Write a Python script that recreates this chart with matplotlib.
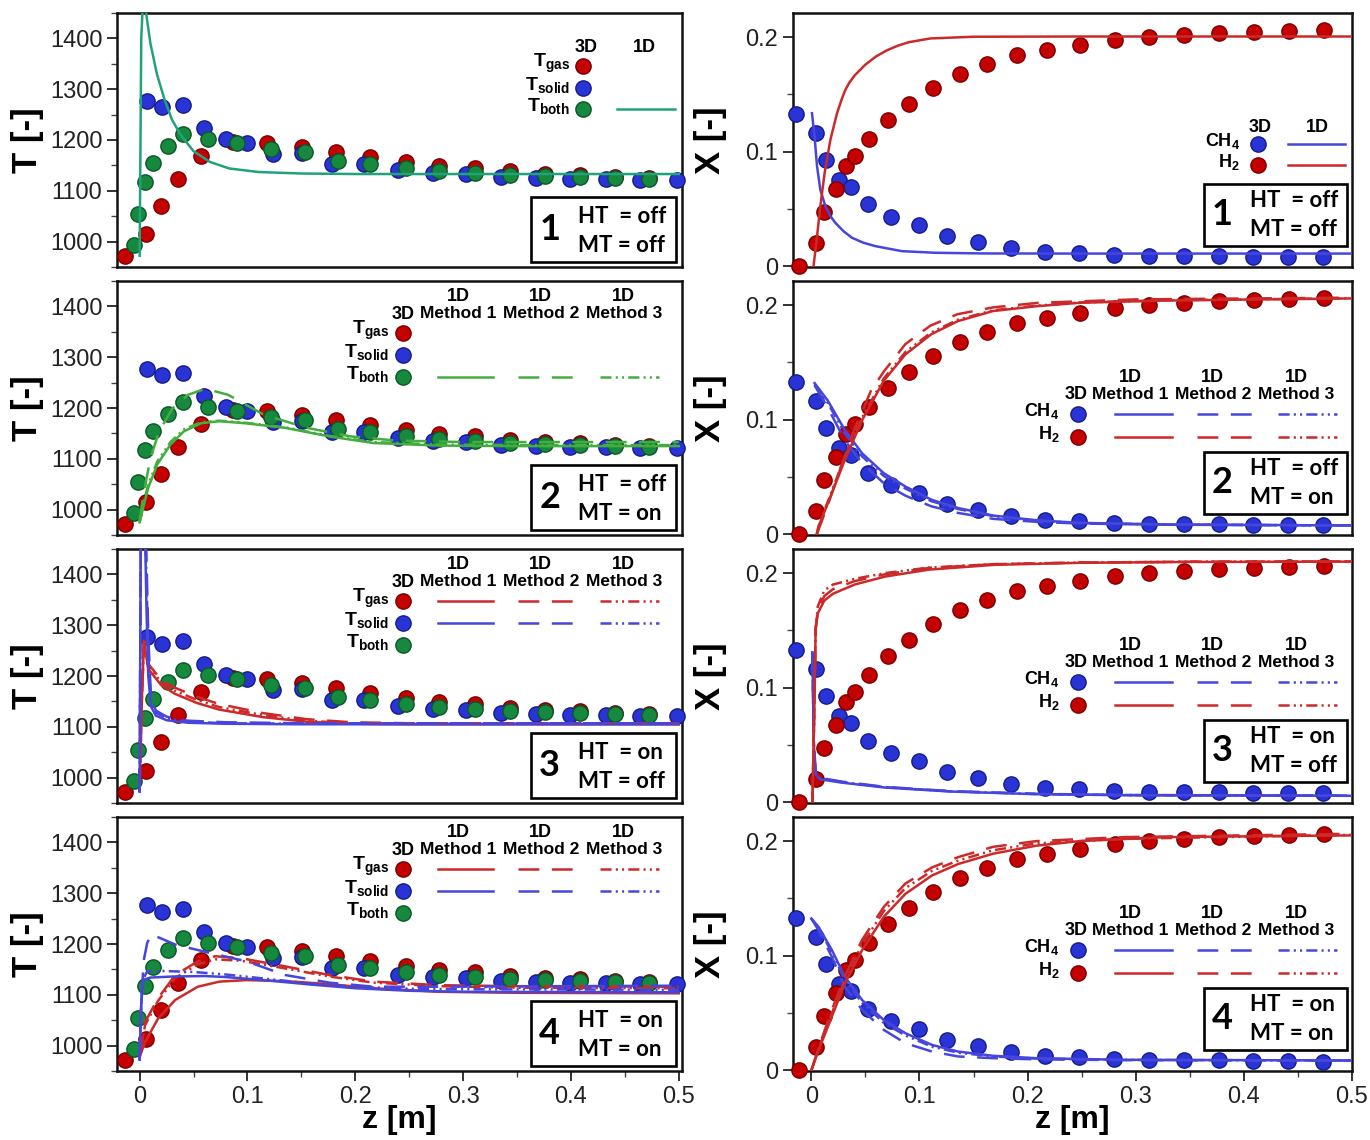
import numpy as np
import matplotlib.pyplot as plt
from matplotlib.patches import Rectangle
from matplotlib.ticker import MultipleLocator, FuncFormatter

plt.rcParams['font.family'] = ['Liberation Sans', 'DejaVu Sans']
plt.rcParams['mathtext.fontset'] = 'custom'
plt.rcParams['mathtext.rm'] = 'Liberation Sans'
plt.rcParams['mathtext.bf'] = 'Liberation Sans:bold'
plt.rcParams['lines.scale_dashes'] = False

# ---------------- 3D reference data (same in every row) ----------------
z_gas = [-0.0139, 0.0056, 0.0195, 0.0356, 0.0572, 0.0866, 0.1184, 0.1506, 0.1824,
         0.2139, 0.2466, 0.278, 0.3108, 0.3436, 0.3755, 0.4082, 0.4409, 0.4724]
T_gas = [972, 1014, 1071, 1123, 1169, 1196, 1194, 1186, 1176,
         1167, 1157, 1148, 1144, 1138, 1134, 1131, 1128, 1125]

z_solid = [0.0071, 0.021, 0.0402, 0.0594, 0.0798, 0.0996, 0.1237, 0.151, 0.1787, 0.2078,
           0.2393, 0.272, 0.3027, 0.3354, 0.3673, 0.3996, 0.4327, 0.4642, 0.498]
T_solid = [1276, 1264, 1268, 1223, 1202, 1195, 1173, 1174, 1153, 1152,
           1140, 1136, 1133, 1128, 1125, 1123, 1123, 1121, 1121]

z_both = [-0.0056, -0.0015, 0.0046, 0.0124, 0.0263, 0.0402, 0.0634, 0.0903, 0.1215, 0.153,
          0.184, 0.2139, 0.2466, 0.278, 0.3108, 0.3436, 0.3755, 0.4082, 0.4409, 0.4724]
T_both = [994, 1054, 1117, 1155, 1189, 1212, 1202, 1194, 1182, 1177,
          1159, 1153, 1144, 1139, 1136, 1132, 1130, 1128, 1126, 1123]

z_ch4 = [-0.0141, 0.0043, 0.0139, 0.0253, 0.037, 0.0524, 0.0739, 0.0992, 0.1257, 0.154,
         0.1845, 0.2159, 0.248, 0.2802, 0.3124, 0.3446, 0.3767, 0.4089, 0.4411, 0.4732]
X_ch4 = [0.133, 0.1163, 0.093, 0.0757, 0.0693, 0.054, 0.0432, 0.0362, 0.0264, 0.0212,
         0.0157, 0.013, 0.0115, 0.0101, 0.0095, 0.0092, 0.0087, 0.0084, 0.0081, 0.0078]

z_h2 = [-0.0117, 0.0043, 0.012, 0.0228, 0.0321, 0.04, 0.0536, 0.0709, 0.0906, 0.1125, 0.1375,
        0.1624, 0.1906, 0.218, 0.2489, 0.2811, 0.3124, 0.3446, 0.3767, 0.4097, 0.4419, 0.474]
X_h2 = [0.0, 0.0206, 0.0476, 0.0675, 0.0872, 0.0965, 0.111, 0.1278, 0.1414, 0.1553, 0.168,
        0.1766, 0.1847, 0.189, 0.1934, 0.1971, 0.1997, 0.202, 0.2035, 0.2043, 0.2055, 0.2058]

# ---------------- 1D results ----------------
# case 1 (HT off, MT off)
t1_z = [0.0, 0.0008, 0.0015, 0.003, 0.006, 0.010, 0.016, 0.023, 0.030, 0.038, 0.050,
        0.065, 0.083, 0.110, 0.150, 0.200, 0.300, 0.500]
t1_both = [972, 1200, 1400, 1470, 1450, 1390, 1330, 1280, 1240, 1210, 1178,
           1157, 1144, 1137, 1134, 1133, 1133, 1133]

x1_z_ch4 = [0.0006, 0.003, 0.0053, 0.0083, 0.013, 0.0175, 0.0222, 0.03, 0.0376, 0.048,
            0.0591, 0.0838, 0.1146, 0.16, 0.25, 0.5]
x1_ch4 = [0.1336, 0.113, 0.0872, 0.067, 0.0524, 0.0441, 0.038, 0.0305, 0.025, 0.0207,
          0.0177, 0.0133, 0.0119, 0.0113, 0.0112, 0.0112]
x1_z_h2 = [0.002, 0.0053, 0.0083, 0.0123, 0.0176, 0.0238, 0.028, 0.0314, 0.035, 0.04, 0.05,
           0.06, 0.07, 0.08, 0.09, 0.11, 0.15, 0.25, 0.5]
x1_h2 = [0.0, 0.0264, 0.0524, 0.0815, 0.1104, 0.1337, 0.1455, 0.1539, 0.160, 0.1665, 0.176,
         0.1832, 0.1885, 0.1925, 0.1955, 0.1988, 0.2003, 0.2005, 0.2005]

# case 2 (HT off, MT on)
t2_z_m1 = [0.0, 0.004, 0.008, 0.0164, 0.0286, 0.041, 0.057, 0.0736, 0.098, 0.135, 0.176,
           0.217, 0.278, 0.35, 0.5]
t2_m1 = [975, 1010, 1043, 1089, 1128, 1154, 1170, 1174, 1170, 1161, 1144, 1131, 1126, 1125, 1125]
t2_m3 = [975, 1016, 1050, 1095, 1133, 1158, 1172, 1175, 1171, 1162, 1145, 1133, 1128, 1127, 1127]
t2_z_m2 = [0.0, 0.004, 0.0102, 0.018, 0.0307, 0.045, 0.061, 0.082, 0.115, 0.155, 0.196,
           0.237, 0.3, 0.5]
t2_m2 = [978, 1036, 1102, 1154, 1200, 1226, 1238, 1226, 1187, 1161, 1144, 1136, 1133, 1133]

x2_z_h2_m1 = [0.005, 0.0068, 0.019, 0.031, 0.047, 0.067, 0.087, 0.111, 0.1355, 0.168,
              0.208, 0.248, 0.328, 0.5]
x2_h2_m1 = [0.0, 0.0072, 0.036, 0.065, 0.0996, 0.134, 0.157, 0.1746, 0.186, 0.1948,
            0.199, 0.202, 0.204, 0.2058]
x2_h2_m3 = [0.0, 0.0075, 0.038, 0.068, 0.102, 0.136, 0.159, 0.1762, 0.1872, 0.1955,
            0.1995, 0.2023, 0.2042, 0.206]
x2_z_h2_m2 = [0.005, 0.015, 0.027, 0.04, 0.055, 0.067, 0.087, 0.11, 0.135, 0.168, 0.21, 0.3, 0.5]
x2_h2_m2 = [0.0, 0.025, 0.058, 0.092, 0.125, 0.142, 0.166, 0.182, 0.192, 0.198, 0.202, 0.205, 0.2065]
x2_z_ch4 = [0.003, 0.015, 0.031, 0.047, 0.067, 0.087, 0.111, 0.1355, 0.168, 0.208, 0.248, 0.328, 0.5]
x2_ch4_m1 = [0.132, 0.117, 0.091, 0.0707, 0.0534, 0.0418, 0.0303, 0.0231, 0.0165, 0.0124, 0.0101, 0.0087, 0.0078]
x2_ch4_m2 = [0.130, 0.111, 0.082, 0.062, 0.0447, 0.0338, 0.0245, 0.0188, 0.0136, 0.011, 0.0095, 0.0085, 0.0078]
x2_ch4_m3 = [0.131, 0.115, 0.088, 0.068, 0.051, 0.040, 0.029, 0.0222, 0.016, 0.0121, 0.0099, 0.0086, 0.0078]

# case 3 (HT on, MT off)
t3_z_gas = [0.0, 0.002, 0.004, 0.008, 0.02, 0.0327, 0.053, 0.0736, 0.1145, 0.155, 0.196, 0.25, 0.5]
t3_gas_m1 = [975, 1150, 1268, 1214, 1182, 1165, 1147, 1134, 1119, 1110, 1106, 1105, 1105]
t3_gas_m2 = [975, 1150, 1270, 1224, 1192, 1177, 1159, 1145, 1127, 1115, 1109, 1107, 1107]
t3_gas_m3 = [975, 1150, 1268, 1220, 1188, 1171, 1153, 1139, 1123, 1112, 1107, 1106, 1106]
t3_z_solid = [0.0, 0.001, 0.003, 0.005, 0.0065, 0.008, 0.0105, 0.015, 0.025, 0.045, 0.08, 0.15, 0.5]
t3_solid_m1 = [972, 1460, 1560, 1480, 1320, 1200, 1140, 1122, 1113, 1108, 1106, 1105, 1105]
t3_solid_m2 = [972, 1440, 1580, 1540, 1420, 1280, 1160, 1132, 1120, 1112, 1109, 1107, 1107]
t3_solid_m3 = [972, 1450, 1570, 1510, 1380, 1240, 1150, 1128, 1117, 1110, 1107, 1106, 1106]

x3_z_h2 = [0.001, 0.0028, 0.004, 0.006, 0.012, 0.02, 0.04, 0.0683, 0.1085, 0.169, 0.249, 0.35, 0.5]
x3_h2_m1 = [0.0, 0.082, 0.1515, 0.165, 0.176, 0.182, 0.19, 0.197, 0.203, 0.2072, 0.209, 0.2097, 0.21]
x3_h2_m2 = [0.0, 0.082, 0.1515, 0.168, 0.180, 0.186, 0.193, 0.199, 0.2045, 0.2078, 0.2092, 0.2099, 0.2101]
x3_h2_m3 = [0.0, 0.082, 0.1515, 0.171, 0.185, 0.190, 0.195, 0.200, 0.2048, 0.2078, 0.2092, 0.21, 0.2102]
x3_z_ch4 = [0.001, 0.0022, 0.004, 0.008, 0.028, 0.068, 0.1287, 0.209, 0.29, 0.5]
x3_ch4_m1 = [0.131, 0.0534, 0.0245, 0.0202, 0.0173, 0.013, 0.0095, 0.0072, 0.0063, 0.0058]
x3_ch4_m2 = [0.131, 0.056, 0.0262, 0.0215, 0.0182, 0.0136, 0.0099, 0.0075, 0.0065, 0.0059]
x3_ch4_m3 = [0.131, 0.055, 0.0255, 0.021, 0.0178, 0.0133, 0.0097, 0.0073, 0.0064, 0.0058]

# case 4 (HT on, MT on)
t4_z_gas_m1 = [0.0, 0.005, 0.017, 0.033, 0.054, 0.074, 0.099, 0.135, 0.176, 0.217, 0.278, 0.35, 0.5]
t4_gas_m1 = [978, 1007, 1053, 1090, 1116, 1126, 1129, 1127, 1121, 1113, 1106, 1104, 1103]
t4_z_gas_m2 = [0.0, 0.005, 0.017, 0.033, 0.054, 0.07, 0.0945, 0.135, 0.176, 0.217, 0.278, 0.35, 0.5]
t4_gas_m2 = [978, 1046, 1093, 1139, 1166, 1176, 1172, 1156, 1139, 1126, 1119, 1117, 1116]
t4_gas_m3 = [978, 1040, 1088, 1133, 1160, 1170, 1167, 1152, 1136, 1124, 1117, 1114, 1113]
t4_z_solid_m1 = [0.0, 0.001, 0.002, 0.004, 0.01, 0.03, 0.06, 0.08, 0.12, 0.16, 0.2, 0.25, 0.3, 0.5]
t4_solid_m1 = [972, 1050, 1110, 1130, 1134, 1136, 1137, 1135, 1128, 1120, 1113, 1108, 1106, 1105]
t4_z_solid_m2 = [0.0, 0.0016, 0.004, 0.007, 0.011, 0.033, 0.066, 0.099, 0.135, 0.176, 0.217, 0.278, 0.5]
t4_solid_m2 = [972, 1093, 1170, 1202, 1219, 1199, 1182, 1166, 1139, 1124, 1116, 1116, 1118]
t4_z_solid_m3 = [0.0, 0.001, 0.003, 0.007, 0.02, 0.05, 0.08, 0.12, 0.16, 0.2, 0.25, 0.3, 0.5]
t4_solid_m3 = [972, 1060, 1130, 1146, 1147, 1145, 1140, 1131, 1122, 1116, 1112, 1111, 1110]

x4_z_h2_m1 = [0.0, 0.0068, 0.019, 0.031, 0.047, 0.067, 0.087, 0.1115, 0.1357, 0.168, 0.208, 0.248, 0.329, 0.5]
x4_h2_m1 = [0.0, 0.018, 0.047, 0.076, 0.105, 0.134, 0.154, 0.170, 0.180, 0.189, 0.196, 0.2, 0.2035, 0.205]
x4_z = [0.0, 0.0068, 0.019, 0.031, 0.047, 0.067, 0.087, 0.1115, 0.1357, 0.168, 0.208, 0.289, 0.5]
x4_h2_m2 = [0.0, 0.02, 0.053, 0.082, 0.114, 0.1426, 0.163, 0.177, 0.186, 0.195, 0.2, 0.2035, 0.2064]
x4_h2_m3 = [0.0, 0.019, 0.05, 0.079, 0.11, 0.139, 0.159, 0.174, 0.183, 0.192, 0.198, 0.202, 0.2055]
x4_ch4_m1 = [0.1325, 0.125, 0.105, 0.0817, 0.0614, 0.044, 0.0325, 0.0223, 0.0165, 0.0128, 0.0107, 0.0093, 0.0087]
x4_ch4_m2 = [0.1325, 0.122, 0.099, 0.073, 0.0528, 0.0354, 0.0238, 0.0165, 0.0122, 0.0107, 0.0097, 0.009, 0.0086]
x4_ch4_m3 = [0.1325, 0.124, 0.103, 0.079, 0.059, 0.0415, 0.0305, 0.0208, 0.0155, 0.0122, 0.0104, 0.0092, 0.0087]

case_ids = ['1', '2', '3', '4']
ht_flags = ['off', 'off', 'on', 'on']
mt_flags = ['off', 'on', 'off', 'on']

# ---------------- styles ----------------
RED, BLUE, GREEN = '#c40000', '#2a34d6', '#17893f'
RED_EDGE, BLUE_EDGE, GREEN_EDGE = '#7a0000', '#141c86', '#0b5626'
RED_L, BLUE_L, GREEN_L, TEAL_L = '#cc2a2a', '#4646dc', '#43ad3e', '#21a27a'
LS = ['-', (0, (15, 9)), (0, (8, 3, 1.5, 3, 1.5, 3))]
LW = 1.8
MS = 11

fig = plt.figure(figsize=(13.7, 11.4), dpi=100)
bottoms = [0.7658, 0.5307, 0.2956, 0.0605]
H = 0.2228
axL = [fig.add_axes([0.0854, b, 0.4124, H]) for b in bottoms]
axR = [fig.add_axes([0.5788, b, 0.408, H]) for b in bottoms]


def fmt(v, pos):
    return '%g' % round(v, 3)


def style(ax, left_kind, last):
    for s in ax.spines.values():
        s.set_linewidth(1.8)
        s.set_color('#111111')
    ax.tick_params(which='major', direction='out', length=7, width=1.3, labelsize=17,
                   top=False, right=False, colors='#222222')
    ax.tick_params(which='minor', direction='out', length=4, width=1.0,
                   top=False, right=False, colors='#444444')
    ax.xaxis.set_major_locator(MultipleLocator(0.1))
    ax.xaxis.set_minor_locator(MultipleLocator(0.05))
    ax.xaxis.set_major_formatter(FuncFormatter(fmt))
    ax.yaxis.set_major_formatter(FuncFormatter(fmt))
    if left_kind:
        ax.set_xlim(-0.021, 0.503)
        ax.set_ylim(950, 1450)
        ax.yaxis.set_major_locator(MultipleLocator(100))
        ax.yaxis.set_minor_locator(MultipleLocator(50))
        ax.set_ylabel('T [-]', fontsize=25, fontweight='bold')
        ax.yaxis.set_label_coords(-0.13, 0.5)
    else:
        ax.set_xlim(-0.017, 0.5)
        ax.set_ylim(-0.0005, 0.221)
        ax.yaxis.set_major_locator(MultipleLocator(0.1))
        ax.yaxis.set_minor_locator(MultipleLocator(0.05))
        ax.set_ylabel('X [-]', fontsize=25, fontweight='bold')
        ax.yaxis.set_label_coords(-0.118, 0.5)
    if last:
        ax.set_xlabel('z [m]', fontsize=23, fontweight='bold')
        ax.xaxis.set_label_coords(0.5, -0.135)
    else:
        ax.tick_params(axis='x', which='both', length=0, labelbottom=False)


def dots(ax, z, v, fc, ec):
    ax.plot(z, v, 'o', ms=MS, mfc=fc, mec=ec, mew=1.0, ls='none', zorder=3, clip_on=False)


def case_box(ax, k, x0, y0, y1):
    ax.add_patch(Rectangle((x0, y0), 0.257, y1 - y0, transform=ax.transAxes,
                           fc='white', ec='black', lw=1.9, zorder=6))
    ax.text(x0 + 0.033, (y0 + y1) / 2, case_ids[k], transform=ax.transAxes, ha='center',
            va='center', fontsize=26, fontweight='bold', family='Lato', zorder=7)
    ax.text(x0 + 0.083, y0 + 0.18, 'HT  = ' + ht_flags[k], transform=ax.transAxes,
            ha='left', va='center', fontsize=16, fontweight='bold', family='Lato', zorder=7)
    ax.text(x0 + 0.083, y0 + 0.065, 'MT = ' + mt_flags[k], transform=ax.transAxes,
            ha='left', va='center', fontsize=16, fontweight='bold', family='Lato', zorder=7)


def seg(ax, x0, x1, y, color, ls):
    ax.plot([x0, x1], [y, y], transform=ax.transAxes, color=color, lw=LW, ls=ls,
            zorder=7, clip_on=False)


def leg_dot(ax, x, y, fc, ec):
    ax.plot([x], [y], 'o', transform=ax.transAxes, ms=MS, mfc=fc, mec=ec, mew=1.0,
            zorder=7, clip_on=False)


def legend_T(ax, methods, line_rows):
    if methods:
        xd, xlab, ys = 0.506, 0.482, [0.795, 0.709, 0.622]
        ax.text(xd, 0.87, '3D', transform=ax.transAxes, ha='center', va='center',
                fontsize=13, fontweight='bold')
        for i, xc in enumerate([0.604, 0.750, 0.897]):
            ax.text(xc, 0.94, '1D', transform=ax.transAxes, ha='center', va='center',
                    fontsize=13, fontweight='bold')
            ax.text(xc, 0.872, 'Method %d' % (i + 1), transform=ax.transAxes, ha='center',
                    va='center', fontsize=12.5, fontweight='bold')
        spans = [(0.568, 0.665), (0.710, 0.812), (0.855, 0.959)]
    else:
        xd, xlab, ys = 0.825, 0.802, [0.791, 0.705, 0.622]
        ax.text(xd + 0.005, 0.866, '3D', transform=ax.transAxes, ha='center', va='center',
                fontsize=13, fontweight='bold')
        ax.text(0.933, 0.866, '1D', transform=ax.transAxes, ha='center', va='center',
                fontsize=13, fontweight='bold')
        spans = [(0.885, 0.988)]
    names = [r'$\mathbf{T}_{\mathbf{gas}}$', r'$\mathbf{T}_{\mathbf{solid}}$',
             r'$\mathbf{T}_{\mathbf{both}}$']
    cols = [(RED, RED_EDGE), (BLUE, BLUE_EDGE), (GREEN, GREEN_EDGE)]
    for y, name, (fc, ec) in zip(ys, names, cols):
        ax.text(xlab, y + 0.01, name, transform=ax.transAxes, ha='right', va='center',
                fontsize=14)
        leg_dot(ax, xd, y, fc, ec)
    for row, color in line_rows:
        for (a, b), ls in zip(spans, LS):
            seg(ax, a, b, ys[row], color, ls)


def legend_X(ax, methods):
    if methods:
        xd, xlab, ys = 0.51, 0.477, [0.476, 0.386]
        ax.text(xd - 0.004, 0.555, '3D', transform=ax.transAxes, ha='center', va='center',
                fontsize=13, fontweight='bold')
        for i, xc in enumerate([0.603, 0.751, 0.90]):
            ax.text(xc, 0.622, '1D', transform=ax.transAxes, ha='center', va='center',
                    fontsize=13, fontweight='bold')
            ax.text(xc, 0.555, 'Method %d' % (i + 1), transform=ax.transAxes, ha='center',
                    va='center', fontsize=12.5, fontweight='bold')
        spans = [(0.576, 0.678), (0.723, 0.826), (0.868, 0.973)]
    else:
        xd, xlab, ys = 0.832, 0.80, [0.484, 0.402]
        ax.text(0.835, 0.551, '3D', transform=ax.transAxes, ha='center', va='center',
                fontsize=13, fontweight='bold')
        ax.text(0.939, 0.551, '1D', transform=ax.transAxes, ha='center', va='center',
                fontsize=13, fontweight='bold')
        spans = [(0.886, 0.988)]
    names = [r'$\mathbf{CH}_{\mathbf{4}}$', r'$\mathbf{H}_{\mathbf{2}}$']
    cols = [(BLUE, BLUE_EDGE, BLUE_L), (RED, RED_EDGE, RED_L)]
    for y, name, (fc, ec, lc) in zip(ys, names, cols):
        ax.text(xlab, y + 0.012, name, transform=ax.transAxes, ha='right', va='center',
                fontsize=13)
        leg_dot(ax, xd, y, fc, ec)
        for (a, b), ls in zip(spans, LS):
            seg(ax, a, b, y, lc, ls)


def draw_T_dots(ax):
    dots(ax, z_gas, T_gas, RED, RED_EDGE)
    dots(ax, z_solid, T_solid, BLUE, BLUE_EDGE)
    dots(ax, z_both, T_both, GREEN, GREEN_EDGE)


def draw_X_dots(ax):
    dots(ax, z_ch4, X_ch4, BLUE, BLUE_EDGE)
    dots(ax, z_h2, X_h2, RED, RED_EDGE)


def curves(ax, items):
    for z, v, color, ls in items:
        ax.plot(z, v, color=color, lw=LW, ls=ls, zorder=4)


# ---------------- left column: temperature ----------------
for i, ax in enumerate(axL):
    style(ax, True, i == 3)
    draw_T_dots(ax)

curves(axL[0], [(t1_z, t1_both, TEAL_L, '-')])
legend_T(axL[0], False, [(2, TEAL_L)])

curves(axL[1], [(t2_z_m1, t2_m1, GREEN_L, LS[0]), (t2_z_m2, t2_m2, GREEN_L, LS[1]),
                (t2_z_m1, t2_m3, GREEN_L, LS[2])])
legend_T(axL[1], True, [(2, GREEN_L)])

curves(axL[2], [(t3_z_gas, t3_gas_m1, RED_L, LS[0]), (t3_z_gas, t3_gas_m2, RED_L, LS[1]),
                (t3_z_gas, t3_gas_m3, RED_L, LS[2]),
                (t3_z_solid, t3_solid_m1, BLUE_L, LS[0]), (t3_z_solid, t3_solid_m2, BLUE_L, LS[1]),
                (t3_z_solid, t3_solid_m3, BLUE_L, LS[2])])
legend_T(axL[2], True, [(0, RED_L), (1, BLUE_L)])

curves(axL[3], [(t4_z_gas_m1, t4_gas_m1, RED_L, LS[0]), (t4_z_gas_m2, t4_gas_m2, RED_L, LS[1]),
                (t4_z_gas_m2, t4_gas_m3, RED_L, LS[2]),
                (t4_z_solid_m1, t4_solid_m1, BLUE_L, LS[0]),
                (t4_z_solid_m2, t4_solid_m2, BLUE_L, LS[1]),
                (t4_z_solid_m3, t4_solid_m3, BLUE_L, LS[2])])
legend_T(axL[3], True, [(0, RED_L), (1, BLUE_L)])

# ---------------- right column: mole fractions ----------------
for i, ax in enumerate(axR):
    style(ax, False, i == 3)
    draw_X_dots(ax)

curves(axR[0], [(x1_z_ch4, x1_ch4, BLUE_L, '-'), (x1_z_h2, x1_h2, RED_L, '-')])
legend_X(axR[0], False)

curves(axR[1], [(x2_z_ch4, x2_ch4_m1, BLUE_L, LS[0]), (x2_z_ch4, x2_ch4_m2, BLUE_L, LS[1]),
                (x2_z_ch4, x2_ch4_m3, BLUE_L, LS[2]),
                (x2_z_h2_m1, x2_h2_m1, RED_L, LS[0]), (x2_z_h2_m2, x2_h2_m2, RED_L, LS[1]),
                (x2_z_h2_m1, x2_h2_m3, RED_L, LS[2])])
legend_X(axR[1], True)

curves(axR[2], [(x3_z_ch4, x3_ch4_m1, BLUE_L, LS[0]), (x3_z_ch4, x3_ch4_m2, BLUE_L, LS[1]),
                (x3_z_ch4, x3_ch4_m3, BLUE_L, LS[2]),
                (x3_z_h2, x3_h2_m1, RED_L, LS[0]), (x3_z_h2, x3_h2_m2, RED_L, LS[1]),
                (x3_z_h2, x3_h2_m3, RED_L, LS[2])])
legend_X(axR[2], True)

curves(axR[3], [(x4_z, x4_ch4_m1, BLUE_L, LS[0]), (x4_z, x4_ch4_m2, BLUE_L, LS[1]),
                (x4_z, x4_ch4_m3, BLUE_L, LS[2]),
                (x4_z_h2_m1, x4_h2_m1, RED_L, LS[0]), (x4_z, x4_h2_m2, RED_L, LS[1]),
                (x4_z, x4_h2_m3, RED_L, LS[2])])
legend_X(axR[3], True)

# case boxes
for k in range(4):
    case_box(axL[k], k, 0.733, 0.02, 0.277)
    case_box(axR[k], k, 0.735, 0.083, 0.327)

fig.savefig('out.png', dpi=100, facecolor='white')
